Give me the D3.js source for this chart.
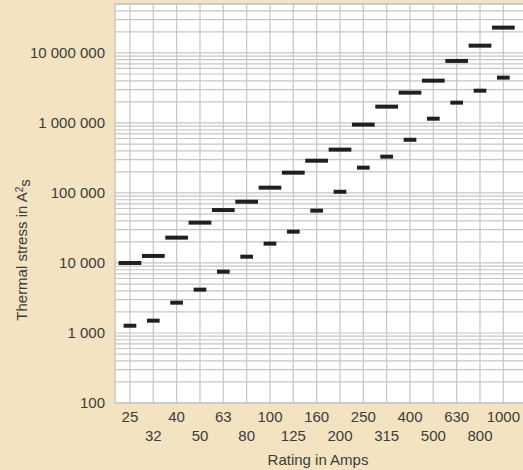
<!DOCTYPE html>
<html>
<head>
<meta charset="utf-8">
<script src="https://cdn.jsdelivr.net/npm/d3@7"></script>
<style>
  html, body { margin: 0; padding: 0; background: #f3e3c1; }
  svg { display: block; }
</style>
</head>
<body>
<svg id="chart"></svg>
<script>
const WIDTH = 523;
const HEIGHT = 470;

const PLOT_LEFT = 115;
const PLOT_TOP = 4;
const PLOT_BOTTOM = 403;

// ratings in amps
const ratings = ["25", "32", "40", "50", "63", "80", "100", "125", "160", "200", "250", "315", "400", "500", "630", "800", "1000"];
// upper series (wide bars), A²s
const upperValues = [10000, 12600, 23000, 37700, 57000, 75000, 119000, 195000, 289000, 416000, 946000, 1710000, 2710000, 4020000, 7690000, 12700000, 23000000];
// lower series (narrow bars), A²s
const lowerValues = [1270, 1500, 2710, 4160, 7510, 12300, 18900, 28000, 55900, 104000, 230000, 330000, 575000, 1150000, 1950000, 2890000, 4440000];
const yTickValues = [100, 1000, 10000, 100000, 1000000, 10000000];

const svg = d3.select('#chart').attr('width', WIDTH).attr('height', HEIGHT);

const xScale = d3.scaleBand()
    .domain(ratings)
    .range([118.3, 515]);

const yScale = d3.scaleLog()
    .domain([100, 50000000])
    .range([PLOT_BOTTOM, PLOT_TOP]);

const formatNum = d => d3.format(',')(d).replace(/,/g, ' ');

// plot background
svg.append('rect')
    .attr('x', PLOT_LEFT)
    .attr('y', PLOT_TOP)
    .attr('width', WIDTH - PLOT_LEFT)
    .attr('height', PLOT_BOTTOM - PLOT_TOP)
    .attr('fill', '#ffffff');

// horizontal log grid
const gridValues = [];
for (let e = 2; e <= 7; e++) {
    for (let k = 1; k <= 9; k++) {
        const v = k * Math.pow(10, e);
        if (v <= 50000000) gridValues.push(v);
    }
}
svg.append('g')
    .selectAll('line')
    .data(gridValues)
    .join('line')
    .attr('x1', PLOT_LEFT)
    .attr('x2', WIDTH)
    .attr('y1', d => yScale(d))
    .attr('y2', d => yScale(d))
    .attr('stroke', '#c6c6ca')
    .attr('stroke-width', 1.2);

// vertical grid at each rating
svg.append('g')
    .selectAll('line')
    .data(ratings)
    .join('line')
    .attr('x1', d => xScale(d) + xScale.bandwidth() / 2)
    .attr('x2', d => xScale(d) + xScale.bandwidth() / 2)
    .attr('y1', PLOT_TOP)
    .attr('y2', PLOT_BOTTOM)
    .attr('stroke', '#c6c6ca')
    .attr('stroke-width', 1.2);

// plot frame
svg.append('path')
    .attr('d', `M${WIDTH},${PLOT_TOP}H${PLOT_LEFT}V${PLOT_BOTTOM}H${WIDTH}`)
    .attr('fill', 'none')
    .attr('stroke', '#c6c6ca')
    .attr('stroke-width', 1.5);

const BAR_H = 4;

// upper bars
svg.append('g')
    .selectAll('rect')
    .data(ratings.map((r, i) => ({ r, v: upperValues[i] })))
    .join('rect')
    .attr('x', d => xScale(d.r) + 0.3)
    .attr('width', xScale.bandwidth() - 0.6)
    .attr('y', d => yScale(d.v) - BAR_H / 2)
    .attr('height', BAR_H)
    .attr('fill', '#231f20');

// lower bars
const lowW = 12.7;
svg.append('g')
    .selectAll('rect')
    .data(ratings.map((r, i) => ({ r, v: lowerValues[i] })))
    .join('rect')
    .attr('x', d => xScale(d.r) + xScale.bandwidth() / 2 - lowW / 2)
    .attr('width', lowW)
    .attr('y', d => yScale(d.v) - BAR_H / 2)
    .attr('height', BAR_H)
    .attr('fill', '#231f20');

const textStyle = sel => sel
    .style('font-family', '"Liberation Sans", Arial, Helvetica, sans-serif')
    .style('font-size', '15px')
    .attr('fill', '#3c3c3c');

// y tick labels
svg.append('g')
    .selectAll('text')
    .data(yTickValues)
    .join('text')
    .call(textStyle)
    .attr('x', 105)
    .attr('y', d => yScale(d))
    .attr('dy', '0.35em')
    .attr('text-anchor', 'end')
    .text(formatNum);

// x tick labels, alternating rows
svg.append('g')
    .selectAll('text')
    .data(ratings)
    .join('text')
    .call(textStyle)
    .attr('x', d => xScale(d) + xScale.bandwidth() / 2)
    .attr('y', (d, i) => i % 2 === 0 ? 417 : 436)
    .attr('dy', '0.35em')
    .attr('text-anchor', 'middle')
    .text(d => d);

// axis titles
svg.append('text')
    .call(textStyle)
    .attr('x', 318)
    .attr('y', 460)
    .attr('dy', '0.35em')
    .attr('text-anchor', 'middle')
    .text('Rating in Amps');

const yTitle = svg.append('text')
    .call(textStyle)
    .attr('transform', 'translate(22, 250) rotate(-90)')
    .attr('dy', '0.35em')
    .attr('text-anchor', 'middle');
yTitle.append('tspan').text('Thermal stress in A');
yTitle.append('tspan').attr('dy', '-0.45em').style('font-size', '10px').text('2');
yTitle.append('tspan').attr('dy', '0.45em').text('s');
</script>
</body>
</html>
